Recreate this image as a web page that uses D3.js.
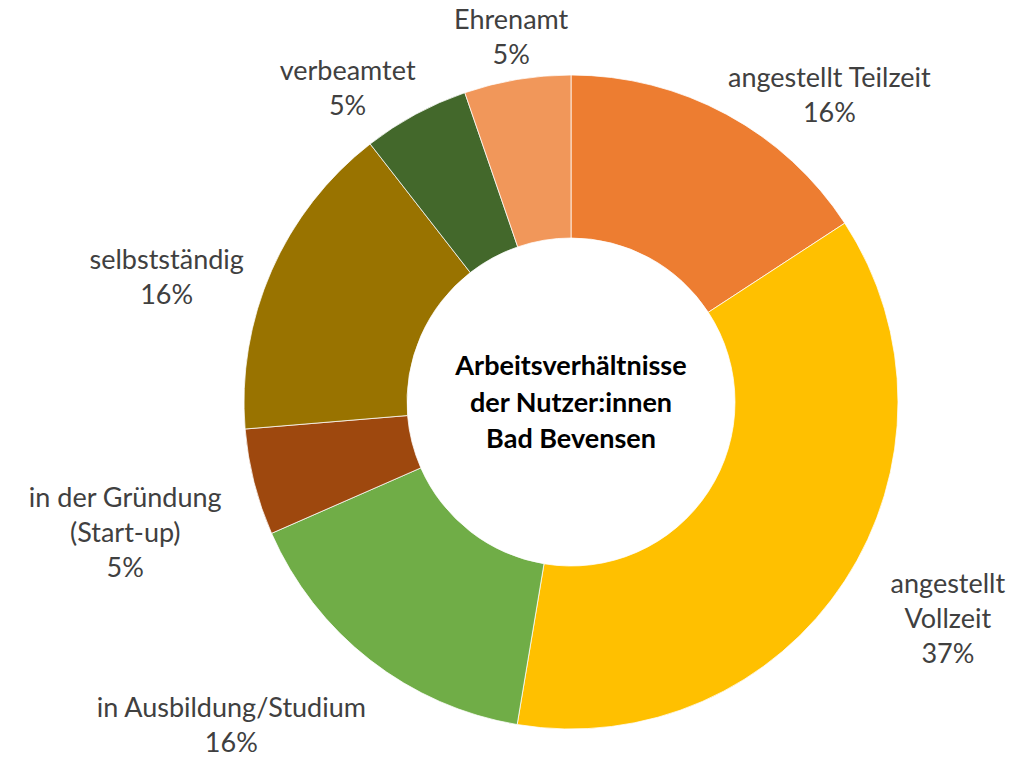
<!DOCTYPE html>
<html>
<head>
<meta charset="utf-8">
<script src="https://cdn.jsdelivr.net/npm/d3@7"></script>
<style>
  body { margin: 0; background: #fff; }
  text { font-family: Lato, "Open Sans", sans-serif; }
</style>
</head>
<body>
<svg id="chart" width="1030" height="757"></svg>
<script>
// data (counts of respondents, 19 total)
const categories = ["angestellt Teilzeit", "angestellt Vollzeit", "in Ausbildung/Studium",
  "in der Gründung (Start-up)", "selbstständig", "verbeamtet", "Ehrenamt"];
const labelLines = [["angestellt Teilzeit"], ["angestellt", "Vollzeit"], ["in Ausbildung/Studium"],
  ["in der Gründung", "(Start-up)"], ["selbstständig"], ["verbeamtet"], ["Ehrenamt"]];
const values = [3, 7, 3, 1, 3, 1, 1];
const colors = ["#ED7D31", "#FFC000", "#70AD47", "#9E480E", "#997300", "#43682B", "#F1975A"];
const titleLines = ["Arbeitsverhältnisse", "der Nutzer:innen", "Bad Bevensen"];

const svg = d3.select("#chart");
const cx = 571, cy = 402;
const outerR = 327, innerR = 164;

const g = svg.append("g").attr("transform", `translate(${cx},${cy})`);

const pie = d3.pie().sort(null).value(d => d.value);
const arcs = pie(values.map((v, i) => ({ value: v, i: i })));

const arc = d3.arc().innerRadius(innerR).outerRadius(outerR);

g.selectAll("path.slice")
  .data(arcs)
  .enter().append("path")
  .attr("class", "slice")
  .attr("d", arc)
  .attr("fill", d => colors[d.data.i])
  .attr("stroke", "#fff")
  .attr("stroke-width", 0.75);

// labels sit on an outer ring, then get nudged like Excel's "best fit"
const labelArc = d3.arc().innerRadius(400).outerRadius(400);
const nudge = [[68, 37], [42, -28], [-94, -1], [-58, 7], [-38, 28], [-33, 30], [6, 22]];
const total = d3.sum(values);
const lineH = 35;

const labels = g.selectAll("text.label")
  .data(arcs)
  .enter().append("text")
  .attr("class", "label")
  .attr("text-anchor", "middle")
  .attr("font-size", "27px")
  .attr("fill", "#404040")
  .attr("transform", d => {
    const c = labelArc.centroid(d);
    const n = nudge[d.data.i];
    return `translate(${c[0] + n[0]},${c[1] + n[1]})`;
  });

labels.each(function(d) {
  const lines = labelLines[d.data.i].concat([Math.round(d.value / total * 100) + "%"]);
  d3.select(this).selectAll("tspan")
    .data(lines)
    .enter().append("tspan")
    .attr("x", 0)
    .attr("y", (t, k) => k * lineH)
    .text(t => t);
});

// center title
g.append("text")
  .attr("text-anchor", "middle")
  .attr("font-size", "27px")
  .attr("font-weight", "bold")
  .attr("fill", "#000")
  .selectAll("tspan")
  .data(titleLines)
  .enter().append("tspan")
  .attr("x", 0)
  .attr("y", (t, k) => -27 + k * 36.5)
  .text(t => t);
</script>
</body>
</html>
